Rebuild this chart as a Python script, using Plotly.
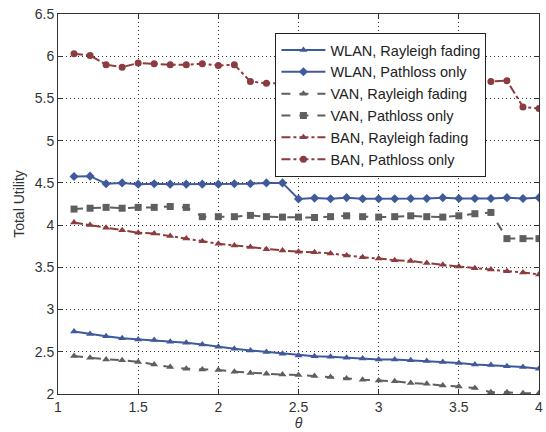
import plotly.graph_objects as go

theta = [1.1, 1.2, 1.3, 1.4, 1.5, 1.6, 1.7, 1.8, 1.9, 2.0,
         2.1, 2.2, 2.3, 2.4, 2.5, 2.6, 2.7, 2.8, 2.9, 3.0,
         3.1, 3.2, 3.3, 3.4, 3.5, 3.6, 3.7, 3.8, 3.9, 4.0]

wlan_rayleigh = [2.74, 2.71, 2.685, 2.66, 2.646, 2.64, 2.62, 2.606, 2.587, 2.56,
                 2.535, 2.516, 2.497, 2.477, 2.457, 2.446, 2.44, 2.43, 2.42, 2.41,
                 2.41, 2.40, 2.39, 2.38, 2.367, 2.35, 2.343, 2.33, 2.32, 2.30]
wlan_pathloss = [4.576, 4.58, 4.49, 4.50, 4.485, 4.49, 4.485, 4.485, 4.485, 4.485,
                 4.49, 4.49, 4.50, 4.50, 4.31, 4.32, 4.313, 4.325, 4.313, 4.313,
                 4.313, 4.316, 4.316, 4.325, 4.316, 4.316, 4.316, 4.325, 4.316, 4.325]
van_rayleigh = [2.45, 2.43, 2.41, 2.40, 2.38, 2.35, 2.32, 2.30, 2.29, 2.284,
                2.264, 2.25, 2.24, 2.23, 2.225, 2.214, 2.20, 2.185, 2.17, 2.16,
                2.15, 2.13, 2.12, 2.10, 2.09, 2.07, 2.02, 2.02, 2.01, 2.01]
van_pathloss = [4.19, 4.20, 4.21, 4.20, 4.21, 4.21, 4.22, 4.21, 4.10, 4.10,
                4.10, 4.115, 4.10, 4.095, 4.095, 4.09, 4.10, 4.11, 4.10, 4.095,
                4.10, 4.11, 4.10, 4.095, 4.11, 4.135, 4.15, 3.84, 3.84, 3.84]
ban_rayleigh = [4.03, 4.00, 3.97, 3.94, 3.91, 3.90, 3.87, 3.84, 3.81, 3.78,
                3.76, 3.74, 3.715, 3.70, 3.685, 3.68, 3.665, 3.64, 3.62, 3.605,
                3.585, 3.575, 3.55, 3.53, 3.51, 3.49, 3.475, 3.455, 3.44, 3.415]
ban_pathloss = [6.03, 6.01, 5.90, 5.87, 5.92, 5.91, 5.90, 5.90, 5.91, 5.89,
                5.90, 5.70, 5.68, 5.68, 5.69, 5.68, 5.68, 5.69, 5.68, 5.68,
                5.69, 5.68, 5.69, 5.68, 5.68, 5.69, 5.70, 5.71, 5.40, 5.38]

x_ticks = [1, 1.5, 2, 2.5, 3, 3.5, 4]
x_tick_labels = ["1", "1.5", "2", "2.5", "3", "3.5", "4"]
y_ticks = [2, 2.5, 3, 3.5, 4, 4.5, 5, 5.5, 6, 6.5]
y_tick_labels = ["2", "2.5", "3", "3.5", "4", "4.5", "5", "5.5", "6", "6.5"]

BLUE = "#3f5a9c"
GRAY = "#5f5f5f"
RED = "#8c3b3e"

series = [
    ("WLAN, Rayleigh fading", wlan_rayleigh, BLUE, "solid", "triangle-up"),
    ("WLAN, Pathloss only", wlan_pathloss, BLUE, "solid", "diamond"),
    ("VAN, Rayleigh fading", van_rayleigh, GRAY, "dash", "triangle-up"),
    ("VAN, Pathloss only", van_pathloss, GRAY, "dash", "square"),
    ("BAN, Rayleigh fading", ban_rayleigh, RED, "dashdot", "triangle-up"),
    ("BAN, Pathloss only", ban_pathloss, RED, "dashdot", "circle"),
]

fig = go.Figure()
for name, vals, col, dash, sym in series:
    fig.add_trace(go.Scatter(
        x=theta, y=vals, name=name, mode="lines+markers",
        line=dict(color=col, width=2, dash=dash),
        marker=dict(symbol=sym, size=7, color=col),
    ))

axis_common = dict(
    showline=True, linecolor="#333333", linewidth=1, mirror="ticks",
    ticks="inside", ticklen=5, tickcolor="#333333",
    showgrid=True, gridcolor="#333333", griddash="1px,3px", gridwidth=1,
    zeroline=False, ticklabeloverflow="allow",
    tickfont=dict(family="Liberation Sans, Arial", size=14, color="#333333"),
)

fig.update_xaxes(range=[1, 4], tickvals=x_ticks, ticktext=x_tick_labels,
                 title=dict(text="<i>θ</i>", standoff=2,
                            font=dict(family="Liberation Sans, Arial", size=14, color="#333333")),
                 **axis_common)
fig.update_yaxes(range=[2, 6.5], tickvals=y_ticks, ticktext=y_tick_labels,
                 title=dict(text="Total Utility", standoff=6,
                            font=dict(family="Liberation Sans, Arial", size=14, color="#333333")),
                 **axis_common)

fig.update_layout(
    width=546, height=432,
    margin=dict(l=58, r=3, t=14, b=38),
    paper_bgcolor="white", plot_bgcolor="white",
    font=dict(family="Liberation Sans, Arial", size=14, color="#222222"),
    legend=dict(x=0.452, y=0.95, xanchor="left", yanchor="top",
                bgcolor="white", bordercolor="#222222", borderwidth=1,
                font=dict(size=14.5, color="#222222"), itemwidth=44,
                tracegroupgap=0),
)

fig.write_html("out.html")
